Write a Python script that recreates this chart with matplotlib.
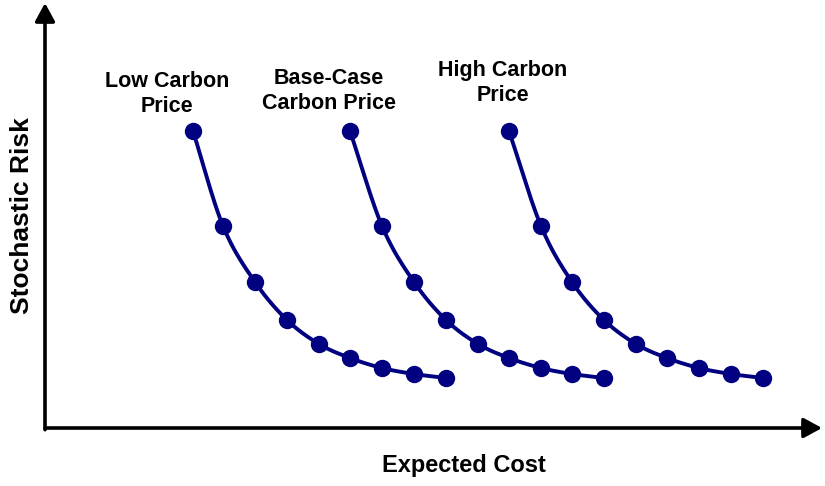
import numpy as np
import matplotlib
matplotlib.use('Agg')
import matplotlib.pyplot as plt

# frontier points (arbitrary units)
cost_low  = [148, 178, 210, 242, 274, 305, 337, 369, 401]
cost_base = [305, 337, 369, 401, 433, 464, 496, 527, 559]
cost_high = [464, 496, 527, 559, 591, 622, 654, 686, 718]
risk      = [297, 202, 146, 108, 84, 70, 60, 54, 50]

labels   = ['Low Carbon\nPrice', 'Base-Case\nCarbon Price', 'High Carbon\nPrice']
label_xy = [(122, 334), (284, 337), (458, 345)]

NAVY = '#000080'
plt.rcParams['font.family'] = ['Liberation Sans', 'DejaVu Sans']


def smooth(x, y, n=30):
    # Catmull-Rom through the points, just for the drawn line
    p = np.column_stack([x, y]).astype(float)
    p = np.vstack([2 * p[0] - p[1], p, 2 * p[-1] - p[-2]])
    t = np.linspace(0, 1, n)[:, None]
    out = []
    for i in range(1, len(p) - 2):
        p0, p1, p2, p3 = p[i - 1], p[i], p[i + 1], p[i + 2]
        seg = 0.5 * ((2 * p1) + (-p0 + p2) * t + (2 * p0 - 5 * p1 + 4 * p2 - p3) * t**2
                     + (-p0 + 3 * p1 - 3 * p2 + p3) * t**3)
        out.append(seg)
    out = np.vstack(out)
    return out[:, 0], out[:, 1]


fig = plt.figure(figsize=(8.25, 4.86), dpi=100)
ax = fig.add_axes([45 / 825, 58 / 486, 777 / 825, 425 / 486])
ax.set_xlim(0, 777)
ax.set_ylim(0, 425)
ax.axis('off')

for cx in (cost_low, cost_base, cost_high):
    sx, sy = smooth(cx, risk)
    ax.plot(sx, sy, color=NAVY, lw=2.8, solid_capstyle='round', zorder=2)
    ax.plot(cx, risk, 'o', color=NAVY, ms=11.5, mec=NAVY, zorder=3)

for txt, (lx, ly) in zip(labels, label_xy):
    ax.text(lx, ly, txt, ha='center', va='center', fontsize=15.5,
            fontweight='bold', linespacing=1.3)

arrow = dict(arrowstyle='-|>,head_length=0.55,head_width=0.3', color='black',
             lw=2.6, mutation_scale=20, shrinkA=0, shrinkB=0)
ax.annotate('', xy=(1, 0), xytext=(0, 0), xycoords='axes fraction',
            textcoords='axes fraction', arrowprops=arrow, annotation_clip=False)
ax.annotate('', xy=(0, 1), xytext=(0, -0.004), xycoords='axes fraction',
            textcoords='axes fraction', arrowprops=arrow, annotation_clip=False)

fig.text(464 / 825, 1 - 465 / 486, 'Expected Cost', ha='center', va='center',
         fontsize=17, fontweight='bold')
fig.text(22 / 825, 1 - 216 / 486, 'Stochastic Risk', ha='center', va='center',
         rotation=90, fontsize=19, fontweight='bold')

fig.savefig('out.png', dpi=100)
